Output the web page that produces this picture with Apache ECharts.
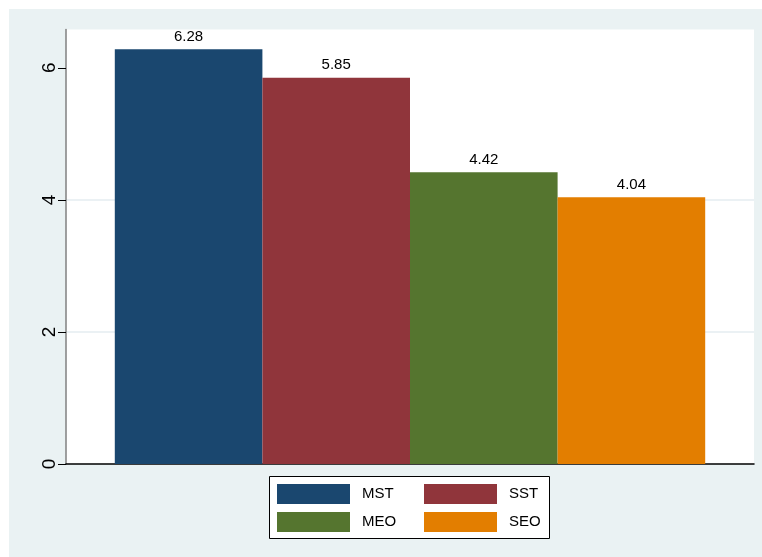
<!DOCTYPE html>
<html>
<head>
<meta charset="utf-8">
<script src="https://cdn.jsdelivr.net/npm/echarts@6/dist/echarts.min.js"></script>
<style>
html,body{margin:0;padding:0;background:#fff;}
#c{width:762px;height:557px;}
</style>
</head>
<body>
<div id="c"></div>
<script>
const seriesNames = ['MST', 'SST', 'MEO', 'SEO'];
const seriesValues = [6.28, 5.85, 4.42, 4.04];
const yTicks = [0, 2, 4, 6];
const categories = [''];

const palette = ['#1a476f', '#90353b', '#55752f', '#e37e00'];
const font = "'Liberation Sans', Arial, sans-serif";

const chart = echarts.init(document.getElementById('c'), null, {renderer: 'canvas'});
const option = {
  animation: false,
  backgroundColor: 'transparent',
  textStyle: {fontFamily: font},
  graphic: [
    {type: 'rect', z: -10, shape: {x: 9, y: 9, width: 753, height: 548}, style: {fill: '#eaf2f3'}, silent: true},
    {type: 'rect', z: 1, shape: {x: 269.5, y: 476.5, width: 280, height: 62}, style: {fill: '#fff', stroke: '#000', lineWidth: 1}, silent: true}
  ],
  grid: {
    left: 66, right: 8, top: 29.5, bottom: 93,
    show: true, backgroundColor: '#fff', borderWidth: 0
  },
  legend: [
    {
      data: [seriesNames[0], seriesNames[2]], orient: 'vertical', left: 277, top: 484, padding: 0,
      itemWidth: 73, itemHeight: 20, itemGap: 8, z: 5,
      textStyle: {fontSize: 15, color: '#000', fontFamily: font, padding: [0, 0, 0, 7]},
      icon: 'rect', selectedMode: false
    },
    {
      data: [seriesNames[1], seriesNames[3]], orient: 'vertical', left: 424, top: 484, padding: 0,
      itemWidth: 73, itemHeight: 20, itemGap: 8, z: 5,
      textStyle: {fontSize: 15, color: '#000', fontFamily: font, padding: [0, 0, 0, 7]},
      icon: 'rect', selectedMode: false
    }
  ],
  xAxis: {
    type: 'category', data: categories,
    axisLine: {show: true, lineStyle: {color: '#000', width: 1.5}},
    axisTick: {show: false}, axisLabel: {show: false}, splitLine: {show: false}
  },
  yAxis: {
    type: 'value', min: 0, max: 6.58, interval: 2,
    axisLine: {show: true, lineStyle: {color: '#808080', width: 1.5}},
    axisTick: {show: true, length: 8, lineStyle: {color: '#000', width: 1}, customValues: yTicks},
    axisLabel: {
      rotate: 90, fontSize: 19, color: '#000', margin: 7, fontFamily: font,
      customValues: yTicks,
      formatter: function (v) { return yTicks.indexOf(v) >= 0 ? String(v) : ''; }
    },
    splitLine: {show: true, showMaxLine: false, showMinLine: false, lineStyle: {color: '#e4edf1', width: 1.5}}
  },
  series: seriesNames.map(function (name, i) {
    return {
      name: name, type: 'bar', data: [seriesValues[i]],
      barWidth: 147.6, barGap: '0%',
      itemStyle: {color: palette[i]},
      label: {
        show: true, position: 'top', distance: 5, fontSize: 15, color: '#000', fontFamily: font,
        formatter: function (p) { return p.value.toFixed(2); }
      }
    };
  })
};
chart.setOption(option);
</script>
</body>
</html>
